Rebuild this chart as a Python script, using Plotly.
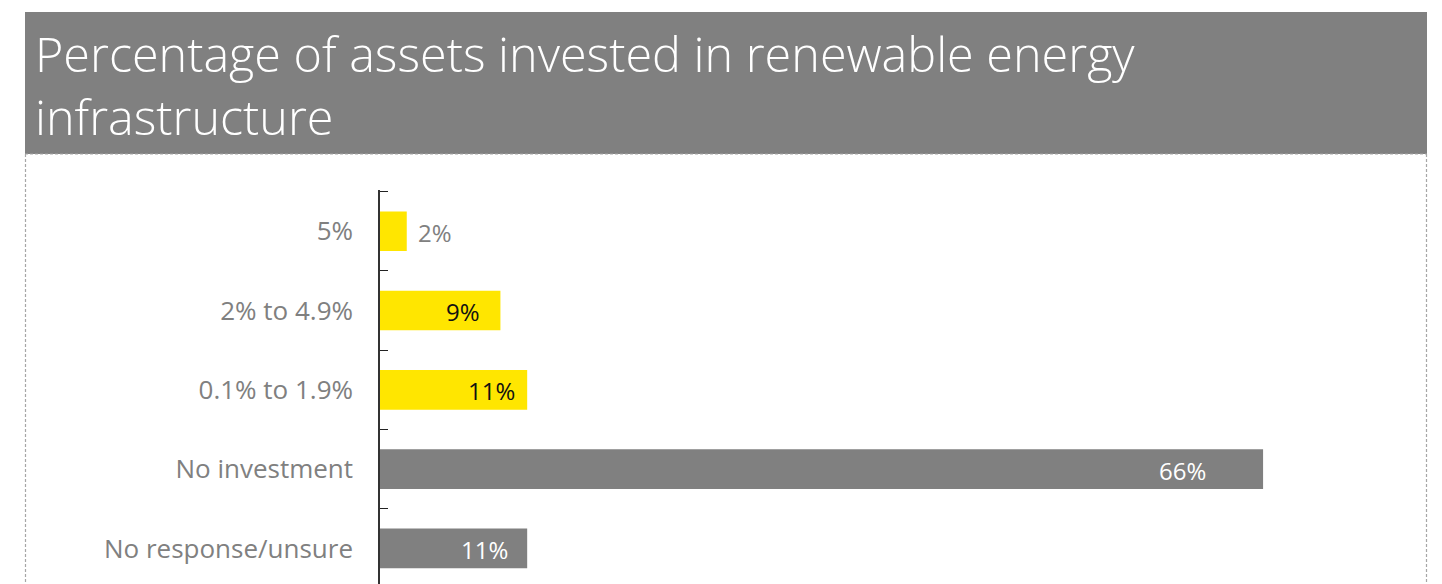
import plotly.graph_objects as go

categories = ["5%", "2% to 4.9%", "0.1% to 1.9%", "No investment", "No response/unsure"]
values = [2, 9, 11, 66, 11]
labels = ["2%", "9%", "11%", "66%", "11%"]
title_text = "Percentage of assets invested in renewable energy<br>infrastructure"

YELLOW = "#FFE600"
GREY = "#808080"
bar_colors = [YELLOW, YELLOW, YELLOW, GREY, GREY]
label_colors = ["#808080", "#111111", "#111111", "#FFFFFF", "#FFFFFF"]
label_inside = [False, True, True, True, True]
label_pad = [9, 18, 10, 55, 17]

OFF = 8  # page body margin
W, H = 1442 - OFF, 584 - OFF
L, R, T, B = 380 - OFF, 42, 190 - OFF, 0
PW, PH = W - L - R, H - T - B

def px(x):
    return (x - OFF - L) / PW

def py(y):
    return (H - B - (y - OFF)) / PH

fig = go.Figure()
fig.add_trace(go.Bar(
    y=categories, x=values, orientation="h",
    marker=dict(color=bar_colors, line=dict(width=0)),
    width=0.5, hoverinfo="skip",
))

for cat, v, lab, col, ins, pad in zip(categories, values, labels, label_colors, label_inside, label_pad):
    fig.add_annotation(
        x=v, y=cat, xref="x", yref="y", text=lab, showarrow=False,
        xanchor="right" if ins else "left", xshift=-pad if ins else pad,
        yshift=-1,
        font=dict(family="Open Sans", size=24, color=col,
                  weight=500 if col == "#111111" else 400),
    )

# title bar
fig.add_shape(type="rect", xref="paper", yref="paper",
              x0=px(25), x1=px(1427), y0=py(154), y1=py(12),
              fillcolor="#808080", line=dict(width=0), layer="below")
# dashed frame
frame = dict(color="#a6a6a6", width=1.2, dash="3px,2px")
fig.add_shape(type="line", xref="paper", yref="paper",
              x0=px(25.5), x1=px(25.5), y0=py(154), y1=py(600), line=frame)
fig.add_shape(type="line", xref="paper", yref="paper",
              x0=px(1426.5), x1=px(1426.5), y0=py(154), y1=py(600), line=frame)
fig.add_shape(type="line", xref="paper", yref="paper",
              x0=px(25), x1=px(1427), y0=py(154), y1=py(154), line=frame)

fig.add_annotation(
    xref="paper", yref="paper", x=px(33), y=py(18),
    xanchor="left", yanchor="top", align="left", showarrow=False,
    text=title_text,
    font=dict(family="Open Sans", size=48.5, color="#FFFFFF", weight=300),
)

fig.update_layout(
    width=W, height=H,
    margin=dict(l=L, r=R, t=T, b=B, pad=0),
    paper_bgcolor="#FFFFFF", plot_bgcolor="#FFFFFF",
    showlegend=False,
    xaxis=dict(visible=False, range=[0, PW / 13.38], fixedrange=True),
    yaxis=dict(
        type="category", categoryorder="array", categoryarray=categories,
        range=[-0.52 + PH / 79.3, -0.52],
        showline=True, linecolor="#333333", linewidth=1.5,
        ticks="inside", tickson="boundaries", ticklen=8, tickcolor="#222222", tickwidth=1.2,
        showgrid=False, zeroline=False,
        tickfont=dict(family="Open Sans", size=26, color="#808080"),
        ticklabelstandoff=20,
    ),
)

fig.write_html("out.html")
